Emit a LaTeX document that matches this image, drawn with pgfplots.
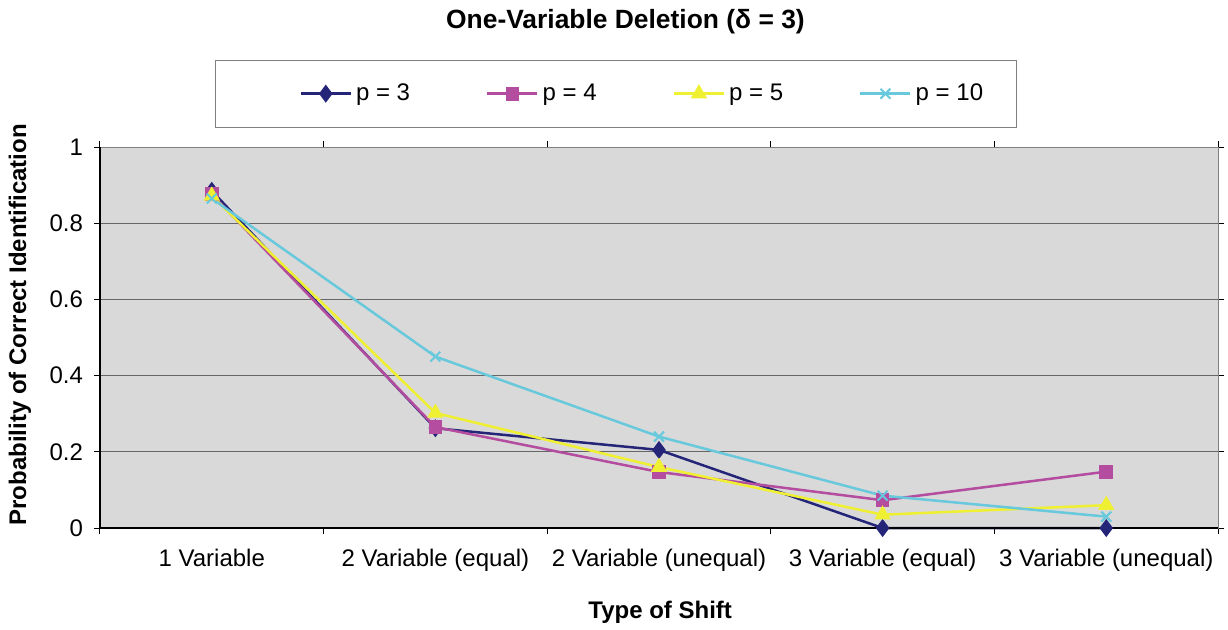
\documentclass[border=0pt]{standalone}
\usepackage{fontspec}
\setmainfont{Liberation Sans}
\usepackage{pgfplots}
\pgfplotsset{compat=1.18}
\definecolor{cnavy}{RGB}{36,36,120}
\definecolor{cmag}{RGB}{180,76,160}
\definecolor{cyel}{RGB}{240,240,50}
\definecolor{ccyan}{RGB}{104,200,220}
\definecolor{bgray}{RGB}{217,217,217}
\begin{document}
\begin{tikzpicture}
\begin{axis}[
  scale only axis,
  width=559pt, height=190.5pt,
  xmin=-0.5, xmax=4.5, ymin=0, ymax=1,
  clip=false,
  axis background/.style={fill=bgray},
  axis line style={draw=black!50},
  xtick={0,1,2,3,4},
  xticklabels={1 Variable,2 Variable (equal),2 Variable (unequal),3 Variable (equal),3 Variable (unequal)},
  major x tick style={draw=none},
  minor xtick={-0.5,0.5,1.5,2.5,3.5,4.5},
  minor x tick style={draw=black, line width=0.5pt},
  minor tick length=3pt,
  ytick={0,0.2,0.4,0.6,0.8,1},
  yticklabels={0,0.2,0.4,0.6,0.8,1},
  tick align=outside,
  major tick length=3pt,
  y tick style={draw=black, line width=0.5pt},
  ymajorgrids,
  major grid style={draw=black!60, line width=0.5pt},
  tick label style={font=\fontsize{12}{14}\selectfont},
  xticklabel style={yshift=-4pt},
  yticklabel style={xshift=-2pt},
  /pgf/number format/assume math mode=true,
  xlabel={Type of Shift},
  xlabel style={at={(0.501,-0.22)}, anchor=center, font=\fontsize{12}{14}\selectfont\bfseries},
  ylabel={Probability of Correct Identification},
  ylabel style={at={(-0.0716,0.533)}, anchor=center, font=\fontsize{12}{14}\selectfont\bfseries},
  legend columns=4,
  legend style={draw=none, fill=none, at={(0.486,1.14)}, anchor=center,
    font=\fontsize{12}{14}\selectfont,
    /tikz/every even column/.append style={column sep=36pt}},
  legend image code/.code={
    \draw[mark repeat=2,mark phase=2,#1] plot coordinates {(0pt,0pt) (12.5pt,0pt) (25pt,0pt)};},
]
\node[font=\fontsize{13.2}{15}\selectfont\bfseries, anchor=center] at (rel axis cs:0.47,1.328) {One-Variable Deletion (δ = 3)};
\draw[black!50] (rel axis cs:0.103,1.0525) rectangle (rel axis cs:0.820,1.228);
\path (rel axis cs:-0.0894,-0.265) rectangle (rel axis cs:1.0089,1.3858);
\addplot[cnavy, line width=1.25pt, mark=diamond*, mark size=3.5pt, mark options={fill=cnavy, draw=cnavy}] coordinates {(0,0.885) (1,0.262) (2,0.205) (3,0) (4,0)};
\addlegendentry{p = 3}
\addplot[cmag, line width=1.25pt, mark=square*, mark size=2.8pt, mark options={fill=cmag, draw=cmag}] coordinates {(0,0.876) (1,0.265) (2,0.147) (3,0.073) (4,0.148)};
\addlegendentry{p = 4}
\addplot[cyel, line width=1.25pt, mark=triangle*, mark size=3.5pt, mark options={fill=cyel, draw=cyel}] coordinates {(0,0.872) (1,0.302) (2,0.16) (3,0.035) (4,0.06)};
\addlegendentry{p = 5}
\addplot[ccyan, line width=1.25pt, mark=x, mark size=3.5pt, mark options={draw=ccyan, line width=1pt}] coordinates {(0,0.865) (1,0.45) (2,0.24) (3,0.085) (4,0.03)};
\addlegendentry{p = 10}
\draw[black, line width=0.6pt] (rel axis cs:0,1) -- (rel axis cs:0,0) -- (rel axis cs:1,0);
\end{axis}
\end{tikzpicture}
\end{document}
